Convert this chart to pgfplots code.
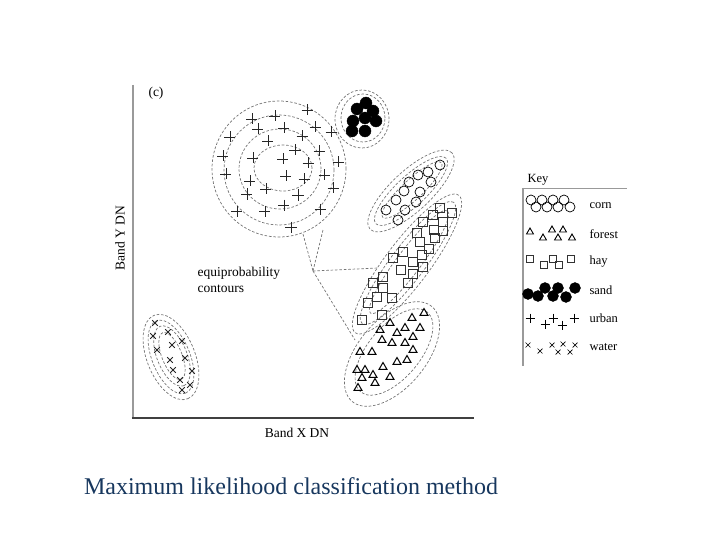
\documentclass[border=0pt]{standalone}
\usepackage{pgfplots}
\pgfplotsset{compat=1.18}
\usepackage{fontspec}
\setmainfont{Liberation Serif}
\definecolor{capblue}{HTML}{17375E}
\definecolor{axgray}{HTML}{9A9A9A}
\tikzset{contour/.style={draw=black!55, dash pattern=on 2.6pt off 1.8pt, line width=0.7pt}}
\newcommand{\lab}{\fontsize{13.5}{16}\selectfont}
\newcommand{\keyf}{\fontsize{12.5}{14}\selectfont}
% dashed equiprobability ellipse: centre x, centre y, rx, ry, angle
\newcommand{\cont}[5]{\draw[contour, rotate around={#5:(axis cs:#1,#2)}] (axis cs:#1,#2) ellipse [x radius=#3pt, y radius=#4pt];}

\begin{document}
\begin{tikzpicture}
\begin{axis}[
    x=1pt, y=1pt, y dir=reverse,
    xmin=133, xmax=473, ymin=85, ymax=418,
    axis lines=none, clip=false]

  \path (axis cs:0,0) rectangle (axis cs:720,540);

  % axes
  \draw[axgray, line width=2.6pt] (axis cs:133,85) -- (axis cs:133,418);
  \draw[black!75, line width=1.4pt] (axis cs:132,418) -- (axis cs:474,418);
  \node[font=\lab] at (axis cs:156,93) {(c)};
  \node[font=\lab, rotate=90] at (axis cs:120,238) {Band Y DN};
  \node[font=\lab] at (axis cs:297,433) {Band X DN};

  % contours
  \cont{279}{169}{67}{68}{0}
  \cont{279}{170}{55}{55}{0}
  \cont{280}{169}{41}{40}{0}
  \cont{283}{168}{29}{23}{0}
  \cont{362}{119}{27}{29}{0}
  \cont{363}{118}{22}{24}{0}
  \cont{411}{191}{56}{20}{43}
  \cont{411}{191}{48}{15}{43}
  \cont{412}{190}{40}{10}{43}
  \cont{407}{264}{86}{22}{53}
  \cont{408}{263}{76}{17}{53}
  \cont{409}{262}{64}{12}{53}
  \cont{392}{354}{62}{34}{50}
  \cont{394}{352}{52}{26}{50}
  \cont{171}{357}{45}{24}{-68}
  \cont{171}{357}{39}{19}{-68}
  \cont{172}{356}{32}{15}{-68}
  \cont{172}{356}{25}{10}{-68}

  % pointer lines
  \draw[contour] (axis cs:303,234) -- (axis cs:313,271);
  \draw[contour] (axis cs:323,230) -- (axis cs:313,271);
  \draw[contour] (axis cs:313,271) -- (axis cs:378,268);
  \draw[contour] (axis cs:313,271) -- (axis cs:355,340);
  \node[font=\lab, anchor=west, align=left] at (axis cs:194,280) {equiprobability\\contours};

  % urban
  \addplot[only marks, mark=+, mark size=5.5, black!85, mark options={line width=0.75pt}] coordinates {
    (307,110)(252,119)(275,116)(258,129)(284,128)(315,127)(331,132)
    (230,137)(268,141)(302,136)(295,150)(319,151)(223,156)(253,158)
    (283,159)(308,163)(338,162)(226,174)(286,176)(324,175)(304,179)
    (250,181)(266,189)(247,194)(333,188)(298,195)(284,205)(237,211)
    (265,211)(320,209)(291,227)
  };
  % sand
  \addplot[only marks, mark=*, mark size=6, black] coordinates {
    (366,103)(357,109)(373,111)(365,118)(353,121)(376,121)(352,131)(365,131)
  };
  % corn
  \addplot[only marks, mark=o, mark size=5, black, mark options={line width=0.7pt}] coordinates {
    (440,165)(428,172)(418,175)(431,182)(409,182)(420,192)(404,191)
    (396,200)(416,202)(405,210)(386,210)(398,220)
  };
  % hay
  \addplot[only marks, mark=square, mark size=4.3, black!80, mark options={line width=1.2pt}] coordinates {
    (440,208)(452,213)(433,215)(423,222)(443,222)(434,230)(443,231)
    (417,233)(435,238)(420,242)(429,249)(422,255)(403,252)(393,258)
    (413,262)(423,267)(401,270)(413,274)(408,283)(383,277)(373,283)
    (383,288)(377,297)(392,298)(368,303)(382,315)(362,320)
  };
  % forest
  \addplot[only marks, mark=triangle, mark size=4.5, black, mark options={line width=1pt}] coordinates {
    (424,313)(412,318)(390,323)(380,330)(420,328)(405,328)(397,333)
    (382,340)(413,337)(392,343)(405,343)(360,352)(372,352)(413,350)
    (407,360)(397,362)(383,367)(357,370)(365,370)(373,375)(390,377)
    (362,378)(375,383)(358,388)
  };
  % water
  \addplot[only marks, mark=x, mark size=4, black!85, mark options={line width=0.8pt}] coordinates {
    (155,323)(168,332)(153,336)(182,341)(172,345)(157,350)(170,360)
    (185,358)(173,370)(192,371)(180,380)(190,385)(182,390)
  };

  % key
  \node[font=\fontsize{12.5}{14}\selectfont, anchor=west] at (axis cs:524,180) {Key};
  \draw[black!40, line width=0.6pt] (axis cs:523,188) -- (axis cs:627,188);
  \draw[axgray, line width=1.8pt] (axis cs:523,188) -- (axis cs:523,366);
  \addplot[only marks, mark=o, mark size=5, black, mark options={line width=0.7pt}] coordinates {
    (531,200)(542,200)(553,200)(564,200)(536,207)(547,207)(558,207)(570,207)
  };
  \addplot[only marks, mark=triangle, mark size=4, black, mark options={line width=0.9pt}] coordinates {
    (530,232)(543,238)(552,230)(558,238)(563,230)(572,238)
  };
  \addplot[only marks, mark=square, mark size=3.8, black!80, mark options={line width=0.9pt}] coordinates {
    (530,259)(544,265)(553,259)(559,265)(571,259)
  };
  \addplot[only marks, mark=*, mark size=5.5, black] coordinates {
    (528,294)(545,288)(538,296)(553,296)(558,288)(566,297)(575,288)
  };
  \addplot[only marks, mark=+, mark size=4.5, black, mark options={line width=0.7pt}] coordinates {
    (530,318)(545,324)(553,318)(562,325)(574,318)
  };
  \addplot[only marks, mark=x, mark size=3.5, black, mark options={line width=0.7pt}] coordinates {
    (528,345)(540,351)(552,345)(558,352)(563,344)(570,352)(575,345)
  };
  \node[anchor=west, font=\keyf] at (axis cs:586,206) {corn};
  \node[anchor=west, font=\keyf] at (axis cs:586,234) {forest};
  \node[anchor=west, font=\keyf] at (axis cs:586,262) {hay};
  \node[anchor=west, font=\keyf] at (axis cs:586,290) {sand};
  \node[anchor=west, font=\keyf] at (axis cs:586,318) {urban};
  \node[anchor=west, font=\keyf] at (axis cs:586,347) {water};

  % caption
  \node[text=capblue, font=\fontsize{24}{28}\selectfont] at (axis cs:291,486) {Maximum likelihood classification method};
\end{axis}
\end{tikzpicture}
\end{document}
